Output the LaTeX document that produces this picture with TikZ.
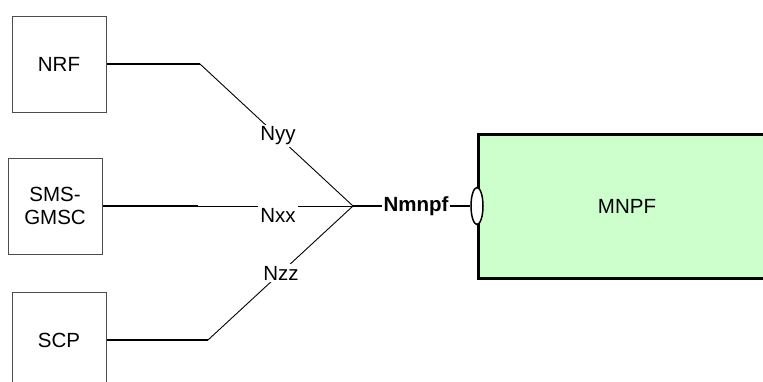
\documentclass[tikz,border=0pt]{standalone}
\usepackage{fontspec}
\setmainfont{Liberation Sans}
\usepackage{tikz}
\usetikzlibrary{positioning,shapes.geometric}
\definecolor{mnpfgreen}{HTML}{CCFFCC}

\begin{document}
\begin{tikzpicture}[x=1pt,y=-1pt,
    nfbox/.style={draw=black!70, line width=1pt, minimum width=94pt, minimum height=96pt,
        font=\fontsize{20.5}{23}\selectfont, align=center},
    reflabel/.style={fill=white, inner sep=2pt, font=\fontsize{20.5}{23}\selectfont},
    thickline/.style={line width=1.8pt},
    thinline/.style={line width=0.9pt}]
    \useasboundingbox (0,0) rectangle (763,381);
    % Funcoes de rede
    \node[nfbox] (nrf) at (59,64) {NRF};
    \node[nfbox] (smsgmsc) at (55,206) {SMS-\\GMSC};
    \node[nfbox] (scp) at (59,340) {SCP};
    % MNPF (cortado a direita)
    \fill[mnpfgreen] (478,134) rectangle (900,278);
    \draw[line width=3pt, line join=miter] (900,134) -- (478,134) -- (478,278) -- (900,278);
    \node[font=\fontsize{20.5}{23}\selectfont] (mnpf) at (627,206) {MNPF};
    % Pontos de dobra e juncao
    \coordinate (nrfbend) at (200,64);
    \coordinate (smsbend) at (198,206);
    \coordinate (scpbend) at (208,340);
    \coordinate (junc) at (353,206);
    % Ligacoes
    \draw[thickline] (nrf.east) -- (nrfbend);
    \draw[thinline] (nrfbend) -- (junc);
    \draw[thickline] (smsgmsc.east) -- (smsbend);
    \draw[thinline] (smsbend) -- (junc);
    \draw[thickline] (scp.east) -- (scpbend);
    \draw[thinline] (scpbend) -- (junc);
    % Interface de servico
    \node[draw, ellipse, fill=white, line width=1.5pt, minimum width=12pt, minimum height=37pt,
        inner sep=0pt] (svc) at (477,206) {};
    \draw[thickline] (junc) -- (svc.west);
    % Rotulos das interfaces
    \node[reflabel] (nyy) at (278,136) {Nyy};
    \node[reflabel] (nxx) at (278,215) {Nxx};
    \node[reflabel] (nzz) at (281,273) {Nzz};
    \node[reflabel, font=\fontsize{20.5}{23}\selectfont\bfseries] (nmnpf) at (416,206) {Nmnpf};
\end{tikzpicture}
\end{document}
